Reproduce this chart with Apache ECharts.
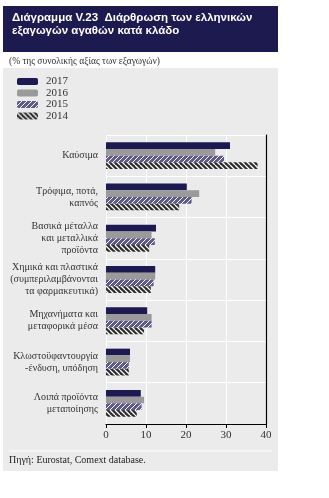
<!DOCTYPE html>
<html><head><meta charset="utf-8">
<script src="https://cdn.jsdelivr.net/npm/echarts@6/dist/echarts.min.js"></script>
<style>html,body{margin:0;padding:0;background:#fff}#c{width:329px;height:498px}</style>
</head><body><div id="c"></div>
<script>
const categories = ['Καύσιμα','Τρόφιμα, ποτά,\nκαπνός','Βασικά μέταλλα\nκαι μεταλλικά\nπροϊόντα','Χημικά και πλαστικά\n(συμπεριλαμβάνονται\nτα φαρμακευτικά)','Μηχανήματα και\nμεταφορικά μέσα','Κλωστοϋφαντουργία\n-ένδυση, υπόδηση','Λοιπά προϊόντα\nμεταποίησης'];
const years = ['2017','2016','2015','2014'];
const v2017 = [31.0, 20.2, 12.5, 12.3, 10.3, 6.0, 8.7];
const v2016 = [27.3, 23.3, 11.4, 12.3, 11.4, 6.0, 9.5];
const v2015 = [29.5, 21.4, 12.2, 11.9, 11.4, 5.7, 8.9];
const v2014 = [37.9, 18.3, 10.8, 11.2, 9.5, 5.7, 7.7];
const xTicks = [0, 10, 20, 30, 40];

function stripes(bg, fg, dir, size, lw) {
  const c = document.createElement('canvas');
  c.width = size; c.height = size;
  const g = c.getContext('2d');
  g.fillStyle = bg; g.fillRect(0, 0, size, size);
  g.strokeStyle = fg; g.lineWidth = lw;
  g.beginPath();
  for (let k = -1; k <= 1; k++) {
    if (dir > 0) { g.moveTo(k*size, size); g.lineTo(k*size + size, 0); }
    else { g.moveTo(k*size, 0); g.lineTo(k*size + size, size); }
  }
  g.stroke();
  return { image: c, repeat: 'repeat' };
}
const colors = ['#1d1a52', '#9a9a9a', stripes('#5f5a8e', '#ffffff', 1, 5, 1), stripes('#2c2c2c', '#ffffff', -1, 5, 1.3)];
const vals = [v2017, v2016, v2015, v2014];
const serif = 'Liberation Serif';

const chart = echarts.init(document.getElementById('c'), null, {renderer: 'canvas'});
chart.setOption({
  animation: false,
  graphic: [
    {type: 'rect', shape: {x: 3, y: 68, width: 275, height: 403}, style: {fill: '#ebebeb'}, z: -10},
    {type: 'rect', shape: {x: 3, y: 6, width: 275, height: 46}, style: {fill: '#1c1a4f'}, z: -10},
    {type: 'line', shape: {x1: 9, y1: 451, x2: 272, y2: 451}, style: {stroke: '#ffffff', lineWidth: 1}, z: -5},
    {type: 'text', left: 12, top: 11, style: {text: 'Διάγραμμα V.23  Διάρθρωση των ελληνικών\nεξαγωγών αγαθών κατά κλάδο', fill: '#ffffff', font: 'bold 11.5px "Liberation Sans"', lineHeight: 13}},
    {type: 'text', left: 9, top: 56, style: {text: '(% της συνολικής αξίας των εξαγωγών)', fill: '#333333', font: '9.5px "Liberation Serif"'}},
    {type: 'text', left: 9, top: 455, style: {text: 'Πηγή: Eurostat, Comext database.', fill: '#222222', font: '10px "Liberation Serif"'}}
  ],
  legend: {
    orient: 'vertical', left: 12, top: 71, itemWidth: 21, itemHeight: 7, itemGap: 0.5,
    data: years,
    textStyle: {fontFamily: serif, fontSize: 11, color: '#333', lineHeight: 11, padding: [0,0,0,3]}
  },
  grid: {left: 106, right: 63, top: 135, bottom: 74},
  xAxis: {
    type: 'value', min: 0, max: 40, interval: 10,
    axisLine: {show: true, lineStyle: {color: '#000', width: 1.2}},
    axisTick: {show: true, length: 4, lineStyle: {color: '#000'}},
    axisLabel: {fontFamily: serif, fontSize: 11, color: '#333', margin: 6,
      formatter: v => xTicks.includes(v) ? String(v) : ''},
    splitLine: {show: true, lineStyle: {color: '#ffffff', width: 1}}
  },
  yAxis: [{
    type: 'category', inverse: true, data: categories,
    axisLine: {show: false}, axisTick: {show: false},
    axisLabel: {fontFamily: serif, fontSize: 10, color: '#333', lineHeight: 12, margin: 8, align: 'right'},
    splitLine: {show: true, lineStyle: {color: '#ffffff', width: 1}}
  }, {
    type: 'category', inverse: true, data: categories, position: 'right',
    axisLine: {show: true, lineStyle: {color: '#000', width: 1.2}}, axisTick: {show: false},
    axisLabel: {show: false}, splitLine: {show: false}
  }],
  series: years.map((y, i) => ({
    name: y, type: 'bar', yAxisIndex: 0, data: vals[i],
    barGap: '0%', barCategoryGap: '35%',
    itemStyle: {color: colors[i]}
  }))
});
</script></body></html>
